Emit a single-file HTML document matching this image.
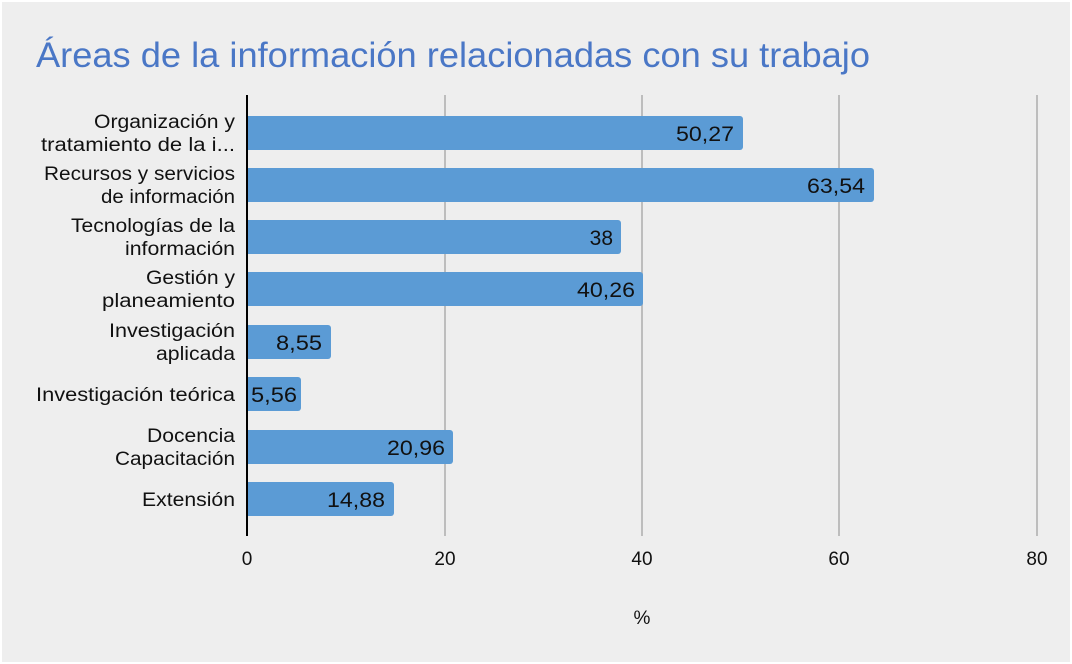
<!DOCTYPE html>
<html><head><meta charset="utf-8"><style>
html,body{margin:0;padding:0;background:#fff}
svg{display:block}
text{font-family:"Liberation Sans",sans-serif}
</style></head><body>
<svg width="1072" height="664" viewBox="0 0 1072 664" xmlns="http://www.w3.org/2000/svg">
<rect x="2" y="2" width="1068" height="660" fill="#eeeeee"/>
<text x="36" y="67" font-size="35" fill="#4a77c6" textLength="834" lengthAdjust="spacingAndGlyphs">Áreas de la información relacionadas con su trabajo</text>
<g stroke="#bdbdbd" stroke-width="2">
<line x1="445" y1="95" x2="445" y2="536"/>
<line x1="642" y1="95" x2="642" y2="536"/>
<line x1="839" y1="95" x2="839" y2="536"/>
<line x1="1037" y1="95" x2="1037" y2="536"/>
</g>
<g fill="#5b9bd5">
<path d="M247 116 H740 a3 3 0 0 1 3 3 V147 a3 3 0 0 1 -3 3 H247Z"/>
<path d="M247 168 H871 a3 3 0 0 1 3 3 V199 a3 3 0 0 1 -3 3 H247Z"/>
<path d="M247 220 H618 a3 3 0 0 1 3 3 V251 a3 3 0 0 1 -3 3 H247Z"/>
<path d="M247 272 H640 a3 3 0 0 1 3 3 V303 a3 3 0 0 1 -3 3 H247Z"/>
<path d="M247 325 H328 a3 3 0 0 1 3 3 V356 a3 3 0 0 1 -3 3 H247Z"/>
<path d="M247 377 H298 a3 3 0 0 1 3 3 V408 a3 3 0 0 1 -3 3 H247Z"/>
<path d="M247 430 H450 a3 3 0 0 1 3 3 V461 a3 3 0 0 1 -3 3 H247Z"/>
<path d="M247 482 H391 a3 3 0 0 1 3 3 V513 a3 3 0 0 1 -3 3 H247Z"/>
</g>
<line x1="247" y1="95" x2="247" y2="536" stroke="#000" stroke-width="2"/>
<g font-size="21" fill="#111" text-anchor="end" lengthAdjust="spacingAndGlyphs">
<text x="734" y="141" textLength="58" lengthAdjust="spacingAndGlyphs">50,27</text>
<text x="865" y="193" textLength="58" lengthAdjust="spacingAndGlyphs">63,54</text>
<text x="613" y="245">38</text>
<text x="635" y="297" textLength="58" lengthAdjust="spacingAndGlyphs">40,26</text>
<text x="322" y="350" textLength="46" lengthAdjust="spacingAndGlyphs">8,55</text>
<text x="297" y="402" textLength="46" lengthAdjust="spacingAndGlyphs">5,56</text>
<text x="445" y="455" textLength="58" lengthAdjust="spacingAndGlyphs">20,96</text>
<text x="385" y="507" textLength="58" lengthAdjust="spacingAndGlyphs">14,88</text>
</g>
<g font-size="19" fill="#111" text-anchor="end">
<text x="235" y="128" textLength="141" lengthAdjust="spacingAndGlyphs">Organización y</text>
<text x="235" y="151" textLength="194" lengthAdjust="spacingAndGlyphs">tratamiento de la i...</text>
<text x="235" y="180" textLength="191" lengthAdjust="spacingAndGlyphs">Recursos y servicios</text>
<text x="235" y="203" textLength="134" lengthAdjust="spacingAndGlyphs">de información</text>
<text x="235" y="232" textLength="164" lengthAdjust="spacingAndGlyphs">Tecnologías de la</text>
<text x="235" y="255" textLength="110" lengthAdjust="spacingAndGlyphs">información</text>
<text x="235" y="284" textLength="89" lengthAdjust="spacingAndGlyphs">Gestión y</text>
<text x="235" y="307" textLength="133" lengthAdjust="spacingAndGlyphs">planeamiento</text>
<text x="235" y="337" textLength="126" lengthAdjust="spacingAndGlyphs">Investigación</text>
<text x="235" y="360" textLength="79" lengthAdjust="spacingAndGlyphs">aplicada</text>
<text x="235" y="401" textLength="199" lengthAdjust="spacingAndGlyphs">Investigación teórica</text>
<text x="235" y="442" textLength="88" lengthAdjust="spacingAndGlyphs">Docencia</text>
<text x="235" y="465" textLength="120" lengthAdjust="spacingAndGlyphs">Capacitación</text>
<text x="235" y="506" textLength="93" lengthAdjust="spacingAndGlyphs">Extensión</text>
</g>
<g font-size="19" fill="#111" text-anchor="middle">
<text x="247" y="565">0</text>
<text x="445" y="565">20</text>
<text x="642" y="565">40</text>
<text x="839" y="565">60</text>
<text x="1037" y="565">80</text>
<text x="642" y="624">%</text>
</g>
</svg>
</body></html>
